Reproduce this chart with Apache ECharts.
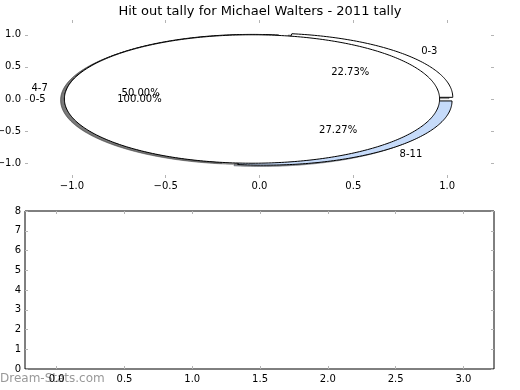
<!DOCTYPE html>
<html>
<head>
<meta charset="utf-8">
<script src="https://cdn.jsdelivr.net/npm/echarts@6/dist/echarts.min.js"></script>
<style>
html,body{margin:0;padding:0;background:#fff;}
#chart{width:520px;height:390px;}
</style>
</head>
<body>
<div id="chart"></div>
<script>
// ---- data ----
const titleText = 'Hit out tally for Michael Walters - 2011 tally';
const outerLabels = ['0-3', '4-7', '8-11'];
const outerValues = [5, 11, 6];
const innerLabels = ['0-5'];
const innerValues = [22];
const pieTicks = [-1, -0.5, 0, 0.5, 1];
const histXTicks = [0, 0.5, 1, 1.5, 2, 2.5, 3];
const histYTicks = [0, 1, 2, 3, 4, 5, 6, 7, 8];
const watermark = 'Dream-Stats.com';

// ---- style ----
const outerColors = [[255,255,255],[255,255,255],[198,219,250]];
const innerColors = [[255,255,255]];
const EXPLODE = 0.04, RADIUS = 1, SHADOW = [-0.02, -0.02];
const FONT = 'DejaVu Sans';

function buildWedges(values, labels, colors) {
  const total = values.reduce((a, b) => a + b, 0);
  let start = 0;
  return values.map((v, i) => {
    const frac = v / total;
    const t1 = start, t2 = start + frac * 360;
    start = t2;
    const mid = (t1 + t2) / 2 * Math.PI / 180;
    return {
      cx: EXPLODE * Math.cos(mid), cy: EXPLODE * Math.sin(mid),
      t1, t2, mid, full: frac >= 0.999999,
      color: colors[i], label: labels[i], pct: (frac * 100).toFixed(2) + '%'
    };
  });
}
const wedges = buildWedges(outerValues, outerLabels, outerColors)
  .concat(buildWedges(innerValues, innerLabels, innerColors));

function wedgePoints(api, w, dx, dy) {
  const pts = [];
  const cx = w.cx + dx, cy = w.cy + dy;
  if (!w.full) pts.push(api.coord([cx, cy]));
  const n = Math.max(6, Math.ceil((w.t2 - w.t1) / 1));
  for (let k = 0; k <= n; k++) {
    const th = (w.t1 + (w.t2 - w.t1) * k / n) * Math.PI / 180;
    pts.push(api.coord([cx + RADIUS * Math.cos(th), cy + RADIUS * Math.sin(th)]));
  }
  return pts;
}
const rgb = (c, f, a) => `rgba(${Math.round(c[0]*f)},${Math.round(c[1]*f)},${Math.round(c[2]*f)},${a})`;
const fmt = v => v.toFixed(1).replace('-', '\u2212');

const chart = echarts.init(document.getElementById('chart'), null, {renderer: 'canvas'});
const tickStyle = {show: true, inside: true, length: 3, lineStyle: {color: '#b4b4b4', width: 1}};
const noLine = {show: false, onZero: false};
const lbl = {color: '#000', fontSize: 10, fontFamily: FONT};

chart.setOption({
  animation: false,
  backgroundColor: '#fff',
  title: {
    text: titleText, left: 'center', top: 0,
    textStyle: {fontSize: 13, fontWeight: 'normal', color: '#000', fontFamily: FONT}
  },
  graphic: [{
    type: 'text', left: 0, top: 373,
    style: {text: watermark, fill: '#999999', font: '12px "DejaVu Sans"'}
  }],
  grid: [
    {left: 25, width: 469, top: 20, height: 158, show: false, containLabel: false, outerBoundsMode: 'none'},
    {left: 25, width: 469, top: 211, height: 158, show: true, borderColor: '#000', borderWidth: 1,
     backgroundColor: 'transparent', containLabel: false, outerBoundsMode: 'none'}
  ],
  xAxis: [
    {gridIndex: 0, type: 'value', min: -1.25, max: 1.25, position: 'bottom',
     axisLine: noLine, splitLine: {show: false},
     axisTick: Object.assign({customValues: pieTicks}, tickStyle),
     axisLabel: Object.assign({customValues: pieTicks, formatter: fmt, margin: 3}, lbl)},
    {gridIndex: 0, type: 'value', min: -1.25, max: 1.25, position: 'top',
     axisLine: noLine, splitLine: {show: false},
     axisTick: Object.assign({customValues: pieTicks}, tickStyle), axisLabel: {show: false}},
    {gridIndex: 1, type: 'value', min: -0.234, max: 3.226, position: 'bottom',
     axisLine: noLine, splitLine: {show: false},
     axisTick: Object.assign({customValues: histXTicks}, tickStyle),
     axisLabel: Object.assign({customValues: histXTicks, formatter: fmt, margin: 5}, lbl)},
    {gridIndex: 1, type: 'value', min: -0.234, max: 3.226, position: 'top',
     axisLine: noLine, splitLine: {show: false},
     axisTick: Object.assign({customValues: histXTicks}, tickStyle), axisLabel: {show: false}}
  ],
  yAxis: [
    {gridIndex: 0, type: 'value', min: -1.23, max: 1.23, position: 'left',
     axisLine: noLine, splitLine: {show: false},
     axisTick: Object.assign({customValues: pieTicks}, tickStyle),
     axisLabel: Object.assign({customValues: pieTicks, formatter: fmt, margin: 4}, lbl)},
    {gridIndex: 0, type: 'value', min: -1.23, max: 1.23, position: 'right',
     axisLine: noLine, splitLine: {show: false},
     axisTick: Object.assign({customValues: pieTicks}, tickStyle), axisLabel: {show: false}},
    {gridIndex: 1, type: 'value', min: 0, max: 8, interval: 1, position: 'left',
     axisLine: noLine, splitLine: {show: false},
     axisTick: Object.assign({customValues: histYTicks}, tickStyle),
     axisLabel: Object.assign({customValues: histYTicks, margin: 4}, lbl)},
    {gridIndex: 1, type: 'value', min: 0, max: 8, interval: 1, position: 'right',
     axisLine: noLine, splitLine: {show: false},
     axisTick: Object.assign({customValues: histYTicks}, tickStyle), axisLabel: {show: false}}
  ],
  series: [
    { // shadows
      type: 'custom', xAxisIndex: 0, yAxisIndex: 0, clip: false, silent: true, z: 1,
      data: wedges.map((w, i) => [i]),
      renderItem: (params, api) => {
        const w = wedges[params.dataIndex];
        return {type: 'polygon', shape: {points: wedgePoints(api, w, SHADOW[0], SHADOW[1])},
          style: {fill: rgb(w.color, 0.3, 0.5), stroke: rgb(w.color, 0.3, 0.5), lineWidth: 1}};
      }
    },
    { // wedges
      type: 'custom', xAxisIndex: 0, yAxisIndex: 0, clip: false, silent: true, z: 2,
      data: wedges.map((w, i) => [i]),
      renderItem: (params, api) => {
        const w = wedges[params.dataIndex];
        return {type: 'polygon', shape: {points: wedgePoints(api, w, 0, 0)},
          style: {fill: rgb(w.color, 1, 1), stroke: '#000', lineWidth: 1}};
      }
    },
    { // labels
      type: 'custom', xAxisIndex: 0, yAxisIndex: 0, clip: false, silent: true, z: 3,
      data: wedges.map((w, i) => [i]),
      renderItem: (params, api) => {
        const w = wedges[params.dataIndex];
        const rl = EXPLODE + 1.1 * RADIUS, rp = EXPLODE + 0.6 * RADIUS;
        const lx = rl * Math.cos(w.mid), ly = rl * Math.sin(w.mid);
        const p1 = api.coord([lx, ly]);
        const p2 = api.coord([rp * Math.cos(w.mid), rp * Math.sin(w.mid)]);
        return {type: 'group', children: [
          {type: 'text', x: p1[0], y: p1[1], style: {text: w.label, fill: '#000', fontSize: 10, fontFamily: FONT,
            align: lx > 0 ? 'left' : 'right', verticalAlign: 'middle'}},
          {type: 'text', x: p2[0], y: p2[1], style: {text: w.pct, fill: '#000', fontSize: 10, fontFamily: FONT,
            align: 'center', verticalAlign: 'middle'}}
        ]};
      }
    }
  ]
});
</script>
</body>
</html>
